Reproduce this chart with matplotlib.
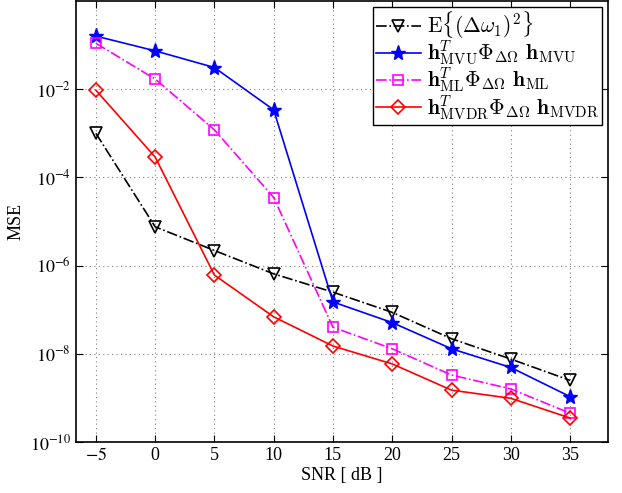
import numpy as np
import matplotlib
matplotlib.use('Agg')
import matplotlib.pyplot as plt
from matplotlib.ticker import FixedLocator, FuncFormatter, NullLocator

plt.rcParams['font.family'] = ['Liberation Serif', 'DejaVu Serif']
plt.rcParams['mathtext.fontset'] = 'stix'

# data
snr = [-5, 0, 5, 10, 15, 20, 25, 30, 35]
mse_bound = [1.0e-3, 7.6e-6, 2.2e-6, 6.5e-7, 2.5e-7, 8.7e-8, 2.2e-8, 7.6e-9, 2.5e-9]
mse_mvu = [1.6e-1, 7.4e-2, 3.1e-2, 3.4e-3, 1.5e-7, 5.1e-8, 1.3e-8, 4.9e-9, 1.07e-9]
mse_ml = [1.1e-1, 1.7e-2, 1.2e-3, 3.5e-5, 4.0e-8, 1.3e-8, 3.3e-9, 1.6e-9, 4.5e-10]
mse_mvdr = [9.5e-3, 2.9e-4, 6.1e-7, 6.9e-8, 1.5e-8, 5.9e-9, 1.5e-9, 9.8e-10, 3.5e-10]

labels = [r'$\mathrm{E}\{(\Delta\omega_1)^2\}$',
          r'$\mathbf{h}_{\mathrm{MVU}}^{T}\mathbf{\Phi}_{\Delta\Omega}\ \mathbf{h}_{\mathrm{MVU}}$',
          r'$\mathbf{h}_{\mathrm{ML}}^{T}\mathbf{\Phi}_{\Delta\Omega}\ \mathbf{h}_{\mathrm{ML}}$',
          r'$\mathbf{h}_{\mathrm{MVDR}}^{T}\mathbf{\Phi}_{\Delta\Omega}\ \mathbf{h}_{\mathrm{MVDR}}$']

fig = plt.figure(figsize=(6.22, 4.93), dpi=100)
ax = fig.add_axes([0.1217, 0.1034, 0.8558, 0.8946])

lw = 1.2
ax.semilogy(snr, mse_bound, color='black', linestyle='-.', marker='v', markersize=8,
            markerfacecolor='none', markeredgewidth=1.2, linewidth=lw, label=labels[0])
ax.semilogy(snr, mse_mvu, color='blue', linestyle='-', marker='*', markersize=11,
            linewidth=lw, label=labels[1])
ax.semilogy(snr, mse_ml, color='magenta', linestyle='-.', marker='s', markersize=7,
            markerfacecolor='none', markeredgewidth=1.2, linewidth=lw, label=labels[2])
ax.semilogy(snr, mse_mvdr, color='red', linestyle='-', marker='D', markersize=7,
            markerfacecolor='none', markeredgewidth=1.2, linewidth=lw, label=labels[3])

ax.set_xlim(-6.7, 38.2)
ax.set_ylim(1e-10, 1e0)
ax.set_xticks(snr)
ax.yaxis.set_major_locator(FixedLocator([1e-10, 1e-8, 1e-6, 1e-4, 1e-2]))
ax.yaxis.set_minor_locator(NullLocator())
ax.yaxis.set_major_formatter(FuncFormatter(lambda v, p: r'$10^{%d}$' % round(np.log10(v))))
ax.xaxis.set_major_formatter(FuncFormatter(lambda v, p: r'$%d$' % v if v < 0 else '%d' % v))

ax.tick_params(direction='in', top=True, right=True, labelsize=13, length=5)
ax.grid(True, linestyle=(0, (1, 3)), color='gray', linewidth=0.8)
for s in ax.spines.values():
    s.set_linewidth(1.2)

ax.set_xlabel('SNR [ dB ]', fontsize=13, labelpad=2)
ax.set_ylabel('MSE', fontsize=13)
ax.yaxis.set_label_coords(-0.097, 0.5)

leg = ax.legend(loc='upper right', fontsize=15.5, fancybox=False, edgecolor='black',
                framealpha=1, borderaxespad=0.3, handlelength=2.1, labelspacing=-0.1,
                borderpad=0.1, handletextpad=0.3)
leg.get_frame().set_linewidth(1.0)
for t in leg.get_texts():
    t.set_math_fontfamily('cm')

fig.savefig('out.png', dpi=100)
